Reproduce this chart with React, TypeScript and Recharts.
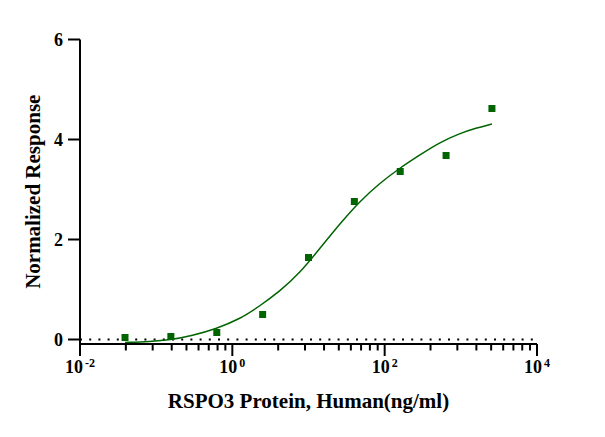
import React from "react";
import {
  ComposedChart,
  Line,
  Scatter,
  XAxis,
  YAxis,
  ReferenceLine,
  Label,
} from "recharts";

// measured points (ng/ml vs normalized response)
const concentrations = [0.039, 0.156, 0.625, 2.5, 10, 40, 160, 640, 2560];
const responses = [0.04, 0.06, 0.14, 0.5, 1.64, 2.76, 3.36, 3.68, 4.62];

// fitted curve
const fitX = [
  0.039, 0.083, 0.151, 0.3, 0.6, 1.26, 2.29, 4.17, 7.59, 14.1, 25.7, 46.8,
  85.1, 155, 288, 525, 955, 1585, 2560,
];
const fitY = [
  -0.06, -0.04, -0.01, 0.08, 0.21, 0.41, 0.67, 0.96, 1.32, 1.82, 2.31, 2.76,
  3.12, 3.42, 3.69, 3.94, 4.12, 4.23, 4.31,
];

const majorXTicks = [0.01, 1, 100, 10000];
const minorXTicks = [
  0.04, 0.09, 0.16, 0.25, 0.36, 0.49, 0.64, 0.81,
  4, 9, 16, 25, 36, 49, 64, 81,
  400, 900, 1600, 2500, 3600, 4900, 6400, 8100,
];
const yTicks = [0, 2, 4, 6];

const points = concentrations.map((x, i) => ({ x, y: responses[i] }));
const curve = fitX.map((x, i) => ({ x, y: fitY[i] }));
const xTicks = [...majorXTicks, ...minorXTicks].sort((a, b) => a - b);

const GREEN = "#006400";
const FONT = "'Liberation Serif', 'Times New Roman', serif";

const XTick = ({ x, y, payload }: any) => {
  const v = payload.value;
  const major = majorXTicks.includes(v);
  const exp = Math.round(Math.log10(v));
  return (
    <g>
      <line
        x1={x}
        x2={x}
        y1={y}
        y2={y + (major ? 12 : 6.5)}
        stroke="#000"
        strokeWidth={2}
      />
      {major && (
        <text
          x={x}
          y={y + 29}
          textAnchor="middle"
          fontFamily={FONT}
          fontWeight="bold"
          fontSize={18}
          fill="#000"
        >
          10
          <tspan dx={2} dy={-6} fontSize={12}>
            {exp}
          </tspan>
        </text>
      )}
    </g>
  );
};

const SquareDot = (props: any) => (
  <rect
    x={props.cx - 3.5}
    y={props.cy - 3.5}
    width={7}
    height={7}
    fill={GREEN}
  />
);

const App = () => (
  <div style={{ position: "absolute", left: 0, top: 0, background: "#fff" }}>
    <ComposedChart
      width={605}
      height={437}
      margin={{ top: 39.5, right: 68, left: 0, bottom: 33 }}
    >
      <XAxis
        dataKey="x"
        type="number"
        scale="log"
        domain={[0.01, 10000]}
        ticks={xTicks}
        interval={0}
        allowDataOverflow
        height={60}
        tickSize={0}
        tickMargin={0}
        tickLine={false}
        tick={<XTick />}
        axisLine={{ stroke: "#000", strokeWidth: 2 }}
      >
        <Label
          content={(p: any) => {
            const vb = p.viewBox;
            return (
              <text
                x={vb.x + vb.width / 2}
                y={vb.y + 64}
                textAnchor="middle"
                fontFamily={FONT}
                fontWeight="bold"
                fontSize={21}
                fill="#000"
              >
                RSPO3 Protein, Human(ng/ml)
              </text>
            );
          }}
        />
      </XAxis>
      <YAxis
        type="number"
        domain={[-0.09, 6]}
        ticks={yTicks}
        interval={0}
        allowDataOverflow
        width={80}
        tickSize={12}
        tickMargin={5}
        tickLine={{ stroke: "#000", strokeWidth: 2 }}
        axisLine={{ stroke: "#000", strokeWidth: 2 }}
        tick={{
          fill: "#000",
          fontSize: 18,
          fontWeight: "bold",
          fontFamily: FONT,
        }}
      >
        <Label
          content={(p: any) => {
            const vb = p.viewBox;
            const cx = 33;
            const cy = vb.y + vb.height / 2;
            return (
              <text
                x={cx}
                y={cy}
                transform={`rotate(-90 ${cx} ${cy})`}
                textAnchor="middle"
                dominantBaseline="central"
                fontFamily={FONT}
                fontWeight="bold"
                fontSize={21}
                fill="#000"
              >
                Normalized Response
              </text>
            );
          }}
        />
      </YAxis>
      <ReferenceLine
        y={0}
        stroke="#000"
        strokeWidth={2}
        strokeDasharray="2 7.2"
      />
      <Line
        data={curve}
        dataKey="y"
        type="basis"
        stroke={GREEN}
        strokeWidth={1.5}
        dot={false}
        activeDot={false}
        isAnimationActive={false}
      />
      <Scatter
        data={points}
        dataKey="y"
        shape={<SquareDot />}
        isAnimationActive={false}
      />
    </ComposedChart>
  </div>
);

export default App;
